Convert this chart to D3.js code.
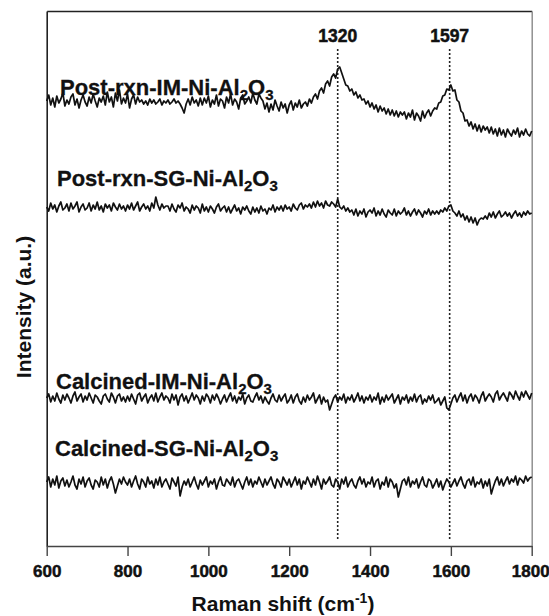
<!DOCTYPE html>
<html>
<head>
<meta charset="utf-8">
<script src="https://cdn.jsdelivr.net/npm/d3@7"></script>
<style>
  html, body { margin: 0; padding: 0; background: #fff; }
  svg { display: block; font-family: "Liberation Sans", Arial, sans-serif; }
</style>
</head>
<body>
<div id="chart"></div>
<script>
const width = 549;
const height = 616;

// Raman shift grid (cm-1), one reading every 5 cm-1
const ramanShift = d3.range(600, 1801, 5);
const xTicks = [600, 800, 1000, 1200, 1400, 1600, 1800];
const peakPositions = [1320, 1597];

// stacking offsets (a.u.)
const offsets = [400, 320, 130, 48];

const sampleNames = [
  ["Post-rxn-IM-Ni-Al", "2", "O", "3"],
  ["Post-rxn-SG-Ni-Al", "2", "O", "3"],
  ["Calcined-IM-Ni-Al", "2", "O", "3"],
  ["Calcined-SG-Ni-Al", "2", "O", "3"],
];

// intensities (a.u., above each offset)
const postIM = [
  45,51,41,48,39,50,43,47,53,40,46,42,49,52,41,47,38,46,51,44,40,49,43,52,45,39,48,44,
  50,41,54,44,49,39,53,45,56,42,48,43,52,38,47,51,42,49,44,
  46,42,45,41,47,43,46,42,44,47,41,45,43,46,42,44,47,43,45,42,
  38,33,
  42,47,41,49,43,46,40,48,
  41,48,43,50,39,46,42,51,40,47,45,38,49,43,52,41,47,44,37,48,51,42,45,49,43,53,46,42,52,48,
  45,37,43,34,42,36,46,40,35,44,38,42,33,41,45,36,43,39,46,38,42,44,
  40,47,43,49,52,47,55,58,53,62,65,60,69,72,68,77,
  79,73,67,61,
  60,55,57,51,54,48,51,46,47,42,
  45,39,43,37,41,34,40,35,38,32,37,31,36,30,35,29,34,31,
  34,27,33,29,36,26,33,30,25,35,28,33,36,30,35,38,
  37,43,44,50,51,57,56,61,
  55,56,46,44,35,33,25,26,
  20,24,17,22,15,21,14,20,16,19,
  13,19,12,17,10,18,11,16,9,17,13,10,16,12,18,9,15,11,17,12,10,15
];

const postSG = [
  19,15,23,17,21,14,20,24,16,18,22,15,23,17,20,24,14,19,22,16,18,23,15,21,17,24,16,20,14,22,18,21,15,23,19,16,22,17,20,15,
  21,17,23,16,20,24,15,19,22,17,20,15,23,18,29,21,16,22,18,20,
  20,15,22,17,14,21,18,23,15,19,17,13,21,16,20,18,13,22,15,19,14,20,17,13,19,22,15,18,20,14,19,13,17,21,15,18,12,19,16,20,
  15,12,19,14,18,13,20,15,17,12,18,16,21,14,19,16,20,15,21,17,19,15,22,18,16,21,23,17,21,19,
  22,18,24,19,25,20,23,18,25,21,20,24,22,19,27,19,17,20,15,18,14,
  16,11,17,10,15,12,17,9,14,16,13,18,10,15,11,17,12,9,16,13,11,17,10,15,12,14,18,11,15,10,14,17,11,16,13,9,15,12,17,11,15,12,
  15,12,16,14,18,15,20,21,
  15,13,10,15,
  9,12,6,10,4,9,3,8,1,6,8,7,
  10,7,13,9,14,8,12,15,9,11,14,10,13,8,12,15,10,13,9,14,11,15,12,13
];

const calcIM = [
  18,22,14,20,15,23,17,13,21,16,22,18,13,20,24,15,19,22,14,20,16,23,18,13,21,19,15,12,20,22,17,14,23,19,13,20,22,15,19,14,
  20,15,22,17,12,21,23,15,19,22,13,18,21,15,23,14,19,23,16,20,18,13,22,16,21,11,19,22,15,20,13,18,23,16,21,18,12,20,15,22,
  19,13,21,16,22,18,12,17,21,14,19,23,15,20,13,19,16,22,12,18,21,15,14,19,23,16,20,13,19,15,12,18,22,16,14,21,15,19,22,13,
  16,21,13,19,22,15,12,19,14,21,16,19,23,13,17,21,12,19,14,16,6,12,18,21,14,19,16,22,13,19,16,21,14,18,23,15,20,13,19,16,
  21,14,19,16,23,12,19,14,21,16,19,22,13,17,21,12,19,16,21,13,19,15,22,14,19,21,12,17,14,20,16,21,13,15,18,11,15,19,8,6,
  12,18,21,14,19,23,15,21,13,19,22,15,21,18,13,20,24,15,19,22,19,14,22,25,16,20,23,19,15,24,21,17,25,20,16,24,19,25,21,17,23
];

const calcSG = [
  16,21,11,19,13,22,10,17,20,12,18,11,16,22,13,9,19,14,21,11,17,20,13,9,18,16,11,21,13,19,10,17,21,14,5,12,19,14,21,16,
  13,19,11,17,22,14,9,19,16,11,21,14,17,10,19,13,21,11,16,19,14,9,20,16,12,21,2,11,17,13,19,11,16,21,14,9,18,13,17,21,
  11,17,14,19,9,16,21,13,12,19,16,13,21,11,17,19,14,9,16,21,13,19,11,17,14,21,16,11,19,13,17,21,14,10,19,16,11,21,17,13,
  19,11,16,21,13,19,9,17,14,21,16,11,19,13,22,16,9,19,14,17,21,13,11,19,16,9,19,14,21,11,16,19,13,10,17,21,14,19,11,16,
  14,21,11,17,19,9,16,13,21,11,19,16,10,14,1,9,17,19,13,21,11,17,14,19,10,16,21,13,11,19,17,10,14,19,11,17,8,14,19,16,
  11,15,19,12,17,21,14,10,17,19,13,21,11,16,14,19,10,17,12,19,4,11,17,21,13,19,12,17,21,14,19,16,22,13,20,18,15,22,17,20,21
];

const spectra = [postIM, postSG, calcIM, calcSG];
const labelBaselines = [95, 186, 389, 456];
const labelX = [60, 57, 56, 55];

const svg = d3
  .select("#chart")
  .append("svg")
  .attr("width", width)
  .attr("height", height)
  .attr("viewBox", `0 0 ${width} ${height}`);

const x = d3.scaleLinear().domain([600, 1800]).range([46.7, 531.7]);
const y = d3.scaleLinear().domain([0, 535]).range([546, 11]);

// frame
svg
  .append("g")
  .attr("transform", `translate(0,${y(535)})`)
  .call(d3.axisTop(x).ticks(0).tickSizeOuter(0))
  .select(".domain")
  .attr("stroke", "#222")
  .attr("stroke-width", 1.6);

svg
  .append("g")
  .attr("transform", `translate(${x(1800)},0)`)
  .call(d3.axisRight(y).ticks(0).tickSizeOuter(0))
  .select(".domain")
  .attr("stroke", "#888")
  .attr("stroke-width", 1.4);

svg
  .append("g")
  .attr("transform", `translate(${x(600)},0)`)
  .call(d3.axisLeft(y).ticks(0).tickSizeOuter(0))
  .select(".domain")
  .attr("stroke", "#222")
  .attr("stroke-width", 1.6);

const xAxis = svg
  .append("g")
  .attr("transform", `translate(0,${y(0)})`)
  .call(
    d3
      .axisBottom(x)
      .tickValues(xTicks)
      .tickFormat(d3.format("d"))
      .tickSize(10)
      .tickSizeOuter(0)
      .tickPadding(9),
  );

xAxis.select(".domain").attr("stroke", "#444").attr("stroke-width", 1.4);
xAxis.selectAll(".tick line").attr("stroke", "#444").attr("stroke-width", 1.4);
xAxis
  .selectAll(".tick text")
  .attr("fill", "#111")
  .attr("stroke", "#111")
  .attr("stroke-width", 0.5)
  .attr("font-family", '"Liberation Sans", Arial, sans-serif')
  .attr("font-size", 17)
  .attr("font-weight", "bold")
  .attr("dx", (d) => (d === 1800 ? -1.5 : 0));

// peak markers
svg
  .selectAll(".peak-line")
  .data(peakPositions)
  .join("line")
  .attr("class", "peak-line")
  .attr("x1", (d) => x(d))
  .attr("x2", (d) => x(d))
  .attr("y1", 49)
  .attr("y2", y(6))
  .attr("stroke", "#222")
  .attr("stroke-width", 1.6)
  .attr("stroke-dasharray", "2,2");

svg
  .selectAll(".peak-label")
  .data(peakPositions)
  .join("text")
  .attr("class", "peak-label")
  .attr("x", (d) => x(d))
  .attr("y", 42)
  .attr("text-anchor", "middle")
  .attr("font-size", 17.5)
  .attr("font-weight", "bold")
  .attr("fill", "#111")
  .attr("stroke", "#111")
  .attr("stroke-width", 0.5)
  .text((d) => d);

// spectra
const line = d3
  .line()
  .x((d, i) => x(ramanShift[i]))
  .y((d) => y(d));

svg
  .selectAll(".spectrum")
  .data(spectra.map((s, k) => s.map((v) => v + offsets[k])))
  .join("path")
  .attr("class", "spectrum")
  .attr("fill", "none")
  .attr("stroke", "#111")
  .attr("stroke-width", 1.7)
  .attr("stroke-linejoin", "round")
  .attr("d", line);

// sample labels
const labels = svg
  .selectAll(".sample-label")
  .data(sampleNames)
  .join("text")
  .attr("class", "sample-label")
  .attr("x", (d, i) => labelX[i])
  .attr("y", (d, i) => labelBaselines[i])
  .attr("font-size", 22)
  .attr("font-weight", "bold")
  .attr("fill", "#111")
  .attr("stroke", "#111")
  .attr("stroke-width", 0.3);

labels.append("tspan").text((d) => d[0]);
labels.append("tspan").attr("dy", 5).attr("font-size", 15).text((d) => d[1]);
labels.append("tspan").attr("dy", -5).text((d) => d[2]);
labels.append("tspan").attr("dy", 5).attr("font-size", 15).text((d) => d[3]);

// axis titles
const xTitle = svg
  .append("text")
  .attr("x", 283)
  .attr("y", 611)
  .attr("text-anchor", "middle")
  .attr("font-size", 21)
  .attr("font-weight", "bold")
  .attr("fill", "#111");
xTitle.append("tspan").text("Raman shift (cm");
xTitle.append("tspan").attr("dy", -8).attr("font-size", 14).text("-1");
xTitle.append("tspan").attr("dy", 8).text(")");

svg
  .append("text")
  .attr("transform", "translate(31,307) rotate(-90)")
  .attr("text-anchor", "middle")
  .attr("font-size", 21)
  .attr("font-weight", "bold")
  .attr("fill", "#111")
  .text("Intensity (a.u.)");
</script>
</body>
</html>
